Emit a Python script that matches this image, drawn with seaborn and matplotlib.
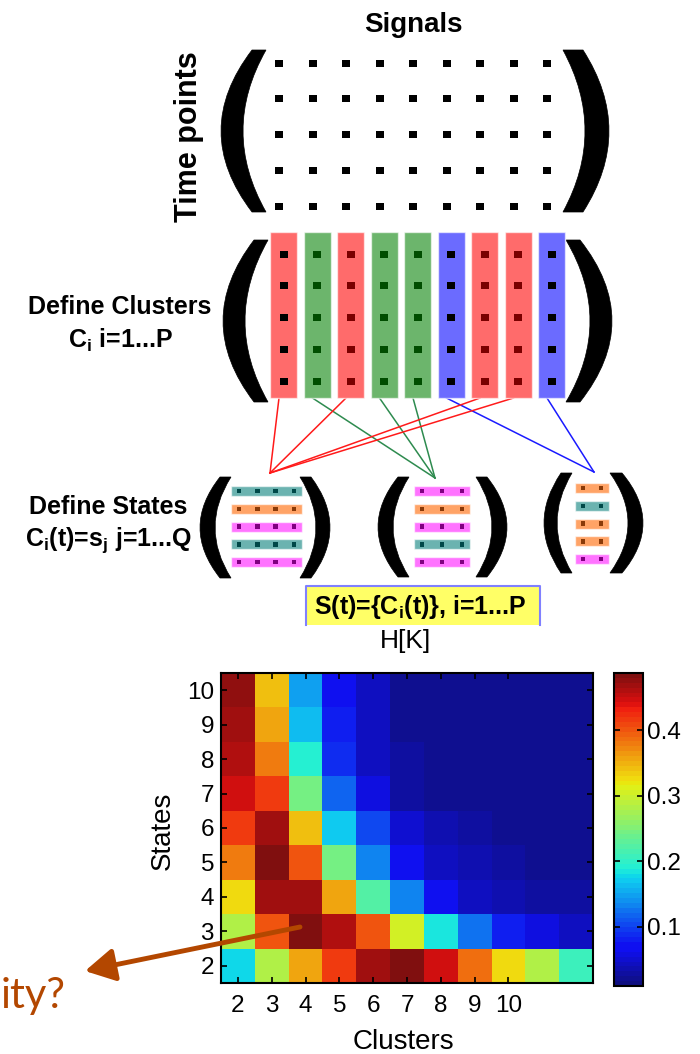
import matplotlib
matplotlib.use("Agg")
import matplotlib.pyplot as plt
import numpy as np
import pandas as pd
import seaborn as sns
from matplotlib import colormaps
from matplotlib.colors import ListedColormap
from matplotlib.patches import PathPatch, Rectangle
from matplotlib.path import Path

# ---------------- data ----------------
n_timepoints = 5
signal_cluster = [0, 1, 0, 1, 1, 2, 0, 0, 2]  # cluster id of every signal column
state_rows = [
    ["teal", "orange", "magenta", "teal", "magenta"],
    ["magenta", "orange", "magenta", "teal", "magenta"],
    ["orange", "teal", "orange", "orange", "magenta"],
]

states = [2, 3, 4, 5, 6, 7, 8, 9, 10]
clusters = [2, 3, 4, 5, 6, 7, 8, 9, 10, 11, 12]
cluster_tick_labels = ["2", "3", "4", "5", "6", "7", "8", "9", "10"]
# one row per number of states (2..10), columns = number of clusters (2..12)
complexity = [
    [0.179, 0.283, 0.358, 0.413, 0.468, 0.482, 0.444, 0.385, 0.330, 0.283, 0.210],
    [0.283, 0.399, 0.482, 0.463, 0.399, 0.306, 0.186, 0.129, 0.080, 0.055, 0.040],
    [0.330, 0.468, 0.468, 0.358, 0.220, 0.134, 0.076, 0.045, 0.035, 0.032, 0.030],
    [0.382, 0.487, 0.399, 0.244, 0.134, 0.070, 0.045, 0.035, 0.030, 0.022, 0.022],
    [0.413, 0.468, 0.339, 0.172, 0.105, 0.050, 0.035, 0.028, 0.018, 0.018, 0.018],
    [0.444, 0.413, 0.244, 0.117, 0.055, 0.030, 0.020, 0.020, 0.020, 0.020, 0.020],
    [0.463, 0.382, 0.196, 0.090, 0.045, 0.030, 0.018, 0.018, 0.018, 0.018, 0.018],
    [0.468, 0.358, 0.163, 0.080, 0.043, 0.020, 0.020, 0.020, 0.020, 0.020, 0.020],
    [0.473, 0.339, 0.146, 0.075, 0.040, 0.018, 0.018, 0.018, 0.018, 0.018, 0.018],
]
cbar_ticks = [0.1, 0.2, 0.3, 0.4]

# ---------------- style ----------------
plt.rcParams["font.family"] = ["Liberation Sans", "DejaVu Sans"]
plt.rcParams["mathtext.fontset"] = "custom"
plt.rcParams["mathtext.it"] = "Liberation Sans:bold"
plt.rcParams["mathtext.rm"] = "Liberation Sans:bold"
plt.rcParams["mathtext.bf"] = "Liberation Sans:bold"

cluster_fill = ["#ff6b6b", "#6cb56c", "#6b6bff"]
cluster_line = ["#ff1a1a", "#2e8b4f", "#1a1aff"]
signal_dot_color = ["#000000", "#004d00", "#7a0000", "#004d00", "#004d00",
                    "#000000", "#7a0000", "#7a0000", "#000000"]
state_fill = {"teal": "#6bb3b0", "orange": "#ffa366", "magenta": "#ff73ff"}
state_dot = {"teal": "#004848", "orange": "#8a3a08", "magenta": "#800080"}
accent = "#b34700"

W, H = 700, 1054
fig = plt.figure(figsize=(W / 100, H / 100), dpi=100)


def px_axes(x0, y0, x1, y1):
    return fig.add_axes([x0 / W, 1 - y1 / H, (x1 - x0) / W, (y1 - y0) / H])


# ---------------- heatmap ----------------
hm_ax = px_axes(221, 673, 593, 983)
cb_ax = px_axes(614, 673, 643, 986)
# 64-level jet, slightly muted like the exported MATLAB figure
jet_rgb = colormaps["jet"](np.linspace(0, 1, 64))[:, :3]
jet64 = ListedColormap(0.88 * jet_rgb + 0.12 * 0.5)
df = pd.DataFrame(complexity[::-1], index=states[::-1], columns=clusters)
sns.heatmap(df, ax=hm_ax, cbar_ax=cb_ax, cmap=jet64, vmin=0.01, vmax=0.487,
            xticklabels=False, yticklabels=False, cbar_kws={"ticks": cbar_ticks})

hm_ax.set_xticks(np.arange(len(cluster_tick_labels)) + 0.5)
hm_ax.set_xticklabels(cluster_tick_labels, rotation=0, fontsize=17.5)
hm_ax.set_yticks(np.arange(len(states)) + 0.5)
hm_ax.set_yticklabels([str(s) for s in states[::-1]], rotation=0, fontsize=17.5)
hm_ax.tick_params(axis="x", direction="in", top=True, bottom=True, length=4,
                  width=1.2, pad=9)
hm_ax.tick_params(axis="y", direction="in", left=True, right=True, length=4,
                  width=1.2, pad=5)
for spine in hm_ax.spines.values():
    spine.set_visible(True)
    spine.set_linewidth(1.5)
hm_ax.set_xlabel("Clusters", fontsize=20)
hm_ax.set_ylabel("States", fontsize=20)
hm_ax.xaxis.set_label_coords((403 - 221) / 372, -(1029 - 983) / 310)
hm_ax.yaxis.set_label_coords(-(221 - 176) / 372, (983 - 831) / 310)

cbar = hm_ax.collections[0].colorbar
cbar.outline.set_visible(True)
cbar.outline.set_linewidth(1.5)
cbar.outline.set_edgecolor("black")
cb_ax.tick_params(direction="in", left=True, right=True, length=4, width=1.2,
                  labelsize=17.5, pad=3)
cb_ax.set_yticklabels([f"{t:.1f}" for t in cbar_ticks])

# ---------------- schematic overlay ----------------
ax = fig.add_axes([0, 0, 1, 1], zorder=10)
ax.set_xlim(0, W)
ax.set_ylim(H, 0)
ax.axis("off")


def paren(x_out, x_in, xe_out, xe_in, y0, y1):
    ym = (y0 + y1) / 2
    verts = [(xe_out, y0), (2 * x_out - xe_out, ym), (xe_out, y1),
             (xe_in, y1), (2 * x_in - xe_in, ym), (xe_in, y0), (xe_out, y0)]
    codes = [Path.MOVETO, Path.CURVE3, Path.CURVE3, Path.LINETO,
             Path.CURVE3, Path.CURVE3, Path.CLOSEPOLY]
    ax.add_patch(PathPatch(Path(verts, codes), facecolor="black", edgecolor="black", lw=0.5))


def square(x, y, w, h, color):
    ax.add_patch(Rectangle((x - w / 2, y - h / 2), w, h, facecolor=color, edgecolor="none", zorder=4))


# raw signal matrix
col_x0, col_dx = 279, 33.5
row_y0, row_dy = 63, 35.75
n_signals = len(signal_cluster)
for i in range(n_signals):
    for j in range(n_timepoints):
        square(col_x0 + i * col_dx, row_y0 + j * row_dy, 8, 7, "black")
paren(221, 243, 252, 266, 50, 212)
paren(609, 585, 583, 563, 50, 212)
ax.text(413, 25, "Signals", ha="center", va="center", fontsize=20, fontweight="bold")
ax.text(189, 137, "Time points", ha="center", va="center", rotation=90,
        fontsize=22, fontweight="bold")

# clustered columns
bar_top, bar_bot, bar_w = 232, 398, 27
apex = [(270, 473), (435, 478), (594, 472)]
for i, c in enumerate(signal_cluster):
    xc = col_x0 + i * col_dx + 4.5
    ax.plot([xc - 4.5, apex[c][0]], [bar_bot, apex[c][1]], color=cluster_line[c], lw=1.1, zorder=2)
    ax.add_patch(Rectangle((xc - bar_w / 2, bar_top), bar_w, bar_bot - bar_top,
                           facecolor=cluster_fill[c], edgecolor=(1, 1, 1, 0.6), lw=1, zorder=3))
    for j in range(n_timepoints):
        square(xc, 254 + j * 31.75, 8, 7, signal_dot_color[i])
paren(223, 245, 254, 268, 240, 402)
paren(612, 590, 580, 566, 240, 402)
ax.text(120, 307, "Define Clusters", ha="center", va="center", fontsize=18, fontweight="bold")
ax.text(120, 340, "C$_i$ i=1...P", ha="center", va="center", fontsize=18, fontweight="bold")

# states per cluster
group_x = [(231, 302), (414, 470), (575, 609)]
group_y0 = [491, 491, 488]
group_parens = [
    [(200, 215, 220, 231, 477, 578), (330, 316, 311, 300, 477, 578)],
    [(378, 393, 398, 409, 477, 577), (507, 492, 487, 476, 477, 577)],
    [(544, 557, 561, 572, 473, 573), (643, 628, 622, 610, 473, 573)],
]
for c, rows in enumerate(state_rows):
    n_dots = signal_cluster.count(c)
    x0, x1 = group_x[c]
    step = (x1 - x0 - 16) / (n_dots - 1)
    for r, name in enumerate(rows):
        y = group_y0[c] + r * 17.75
        ax.add_patch(Rectangle((x0, y - 5), x1 - x0, 10, facecolor=state_fill[name],
                               edgecolor=(1, 1, 1, 0.6), lw=1, zorder=3))
        for k in range(n_dots):
            square(x0 + 8 + k * step, y, 4.5, 4.5, state_dot[name])
    for p in group_parens[c]:
        paren(*p)
ax.text(108, 507, "Define States", ha="center", va="center", fontsize=18, fontweight="bold")
ax.text(108, 540, "C$_i$(t)=s$_j$ j=1...Q", ha="center", va="center", fontsize=18, fontweight="bold")

# state vector box
ax.add_patch(Rectangle((306, 586), 234, 39, facecolor="#ffff66", edgecolor="none", zorder=2))
ax.plot([306, 306, 540, 540], [625, 586, 586, 625], color="#8080ff", lw=1.5, zorder=3)
ax.text(420, 607, "S(t)={C$_i$(t)}, i=1...P", ha="center", va="center", fontsize=18, fontweight="bold")
ax.text(406, 641, "H[K]", ha="center", va="center", fontsize=19)

# arrow and the question it points to
ax.annotate("", xy=(85, 971), xytext=(300, 927),
            arrowprops=dict(arrowstyle="-|>,head_length=0.9,head_width=0.5",
                            lw=3.5, color=accent, mutation_scale=20,
                            shrinkA=0, shrinkB=0))
ax.text(1, 1008, "ity?", ha="left", va="baseline", fontsize=30, color=accent,
        family=["Lato", "DejaVu Sans"])

fig.savefig("out.png", dpi=100)
